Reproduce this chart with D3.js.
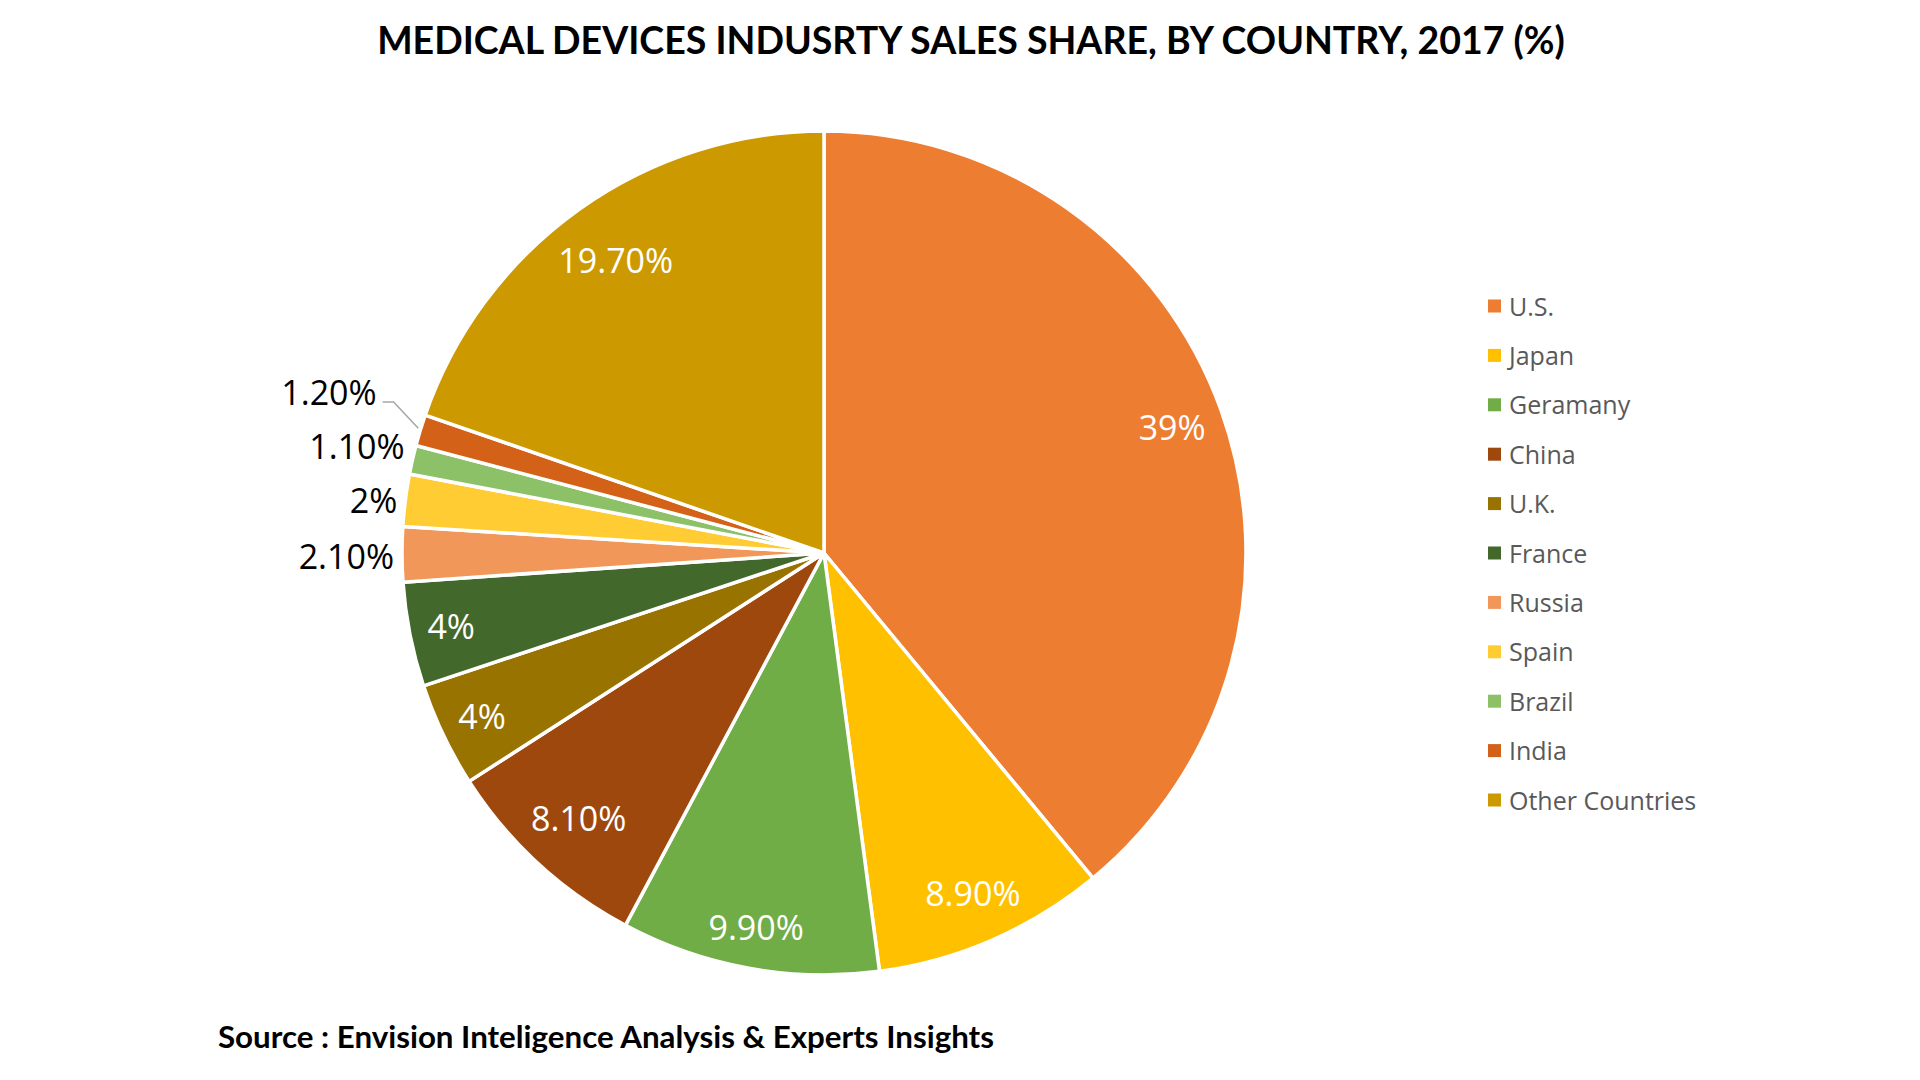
<!DOCTYPE html>
<html lang="en">
<head>
  <meta charset="UTF-8">
  <title>Medical Devices Industry Sales Share</title>
  <script src="https://d3js.org/d3.v7.min.js"></script>
  <style>
    body { margin: 0; background: #fff; }
    .title { font-family: Lato, sans-serif; font-weight: bold; font-size: 37.5px; fill: #000; }
    .source { font-family: Lato, sans-serif; font-weight: bold; font-size: 31.3px; fill: #000; }
    .pct { font-family: 'Open Sans', sans-serif; font-size: 34px; }
    .legend text { font-family: 'Open Sans', sans-serif; font-size: 25px; fill: #595959; }
  </style>
</head>
<body>
  <svg id="chart" width="1920" height="1080"></svg>
  <script>
    const countries = ["U.S.", "Japan", "Geramany", "China", "U.K.", "France", "Russia", "Spain", "Brazil", "India", "Other Countries"];
    const shares = [39, 8.9, 9.9, 8.1, 4, 4, 2.1, 2, 1.1, 1.2, 19.7];
    const shareLabels = ["39%", "8.90%", "9.90%", "8.10%", "4%", "4%", "2.10%", "2%", "1.10%", "1.20%", "19.70%"];
    const colors = ["#ED7D31", "#FFC000", "#70AD47", "#9E480E", "#997300", "#43682B", "#F1975A", "#FFCD33", "#8CC168", "#D36118", "#CC9A00"];

    const svg = d3.select("#chart");
    const cx = 824, cy = 553, R = 422;

    svg.append("text").attr("class", "title")
      .attr("x", 971).attr("y", 54).attr("text-anchor", "middle")
      .text("MEDICAL DEVICES INDUSRTY SALES SHARE, BY COUNTRY, 2017 (%)");

    const color = d3.scaleOrdinal().domain(countries).range(colors);

    const pie = d3.pie().sort(null).value(d => d.value);
    const arcs = pie(countries.map((c, i) => ({ name: c, value: shares[i], label: shareLabels[i] })));

    const arc = d3.arc().innerRadius(0).outerRadius(R);

    const g = svg.append("g").attr("transform", `translate(${cx},${cy})`);

    g.selectAll("path")
      .data(arcs)
      .enter()
      .append("path")
      .attr("d", arc)
      .attr("fill", d => color(d.data.name))
      .attr("stroke", "#fff")
      .attr("stroke-width", 3.5)
      .attr("stroke-linejoin", "round");

    // big slices: label inside, pushed out as far as the text box still fits
    const pad = 15, boxH = 30;
    g.selectAll(".pct-in")
      .data(arcs.filter(d => d.data.value >= 3))
      .enter()
      .append("text")
      .attr("class", "pct")
      .attr("text-anchor", "middle")
      .attr("dy", "0.36em")
      .attr("fill", "#fff")
      .text(d => d.data.label)
      .each(function(d) {
        const w = this.getComputedTextLength();
        const a = (d.startAngle + d.endAngle) / 2;
        const ux = Math.sin(a), uy = -Math.cos(a);
        let r = R;
        for (; r > 0; r -= 1) {
          const px = r * ux, py = r * uy;
          const fx = Math.abs(px) + w / 2, fy = Math.abs(py) + boxH / 2;
          if (Math.hypot(fx, fy) <= R - pad) break;
        }
        d3.select(this).attr("transform", `translate(${r * ux},${r * uy})`);
      });

    // small slices: label outside, pushed up when they collide
    const small = arcs.filter(d => d.data.value < 3);
    let prevY = Infinity;
    small.forEach(d => {
      const a = (d.startAngle + d.endAngle) / 2;
      const nx = Math.sin(a) * (R + 8), ny = -Math.cos(a) * (R + 8) + 2;
      const y = Math.min(ny, prevY - 54);
      prevY = y;
      const moved = ny - y > 20;
      const x = moved ? nx - 36 : nx;
      g.append("text")
        .attr("class", "pct")
        .attr("x", x).attr("y", y)
        .attr("dy", "0.36em")
        .attr("text-anchor", "end")
        .attr("fill", "#000")
        .text(d.data.label);
      if (moved) {
        const ex = Math.sin(a) * R, ey = -Math.cos(a) * R;
        g.append("polyline")
          .attr("points", [[x + 6, y + 9], [x + 17, y + 9], [ex - 2, ey - 2]].map(p => p.join(",")).join(" "))
          .attr("fill", "none")
          .attr("stroke", "#A6A6A6")
          .attr("stroke-width", 1.5);
      }
    });

    // legend
    const legend = svg.append("g").attr("class", "legend")
      .attr("transform", "translate(1488, 306)");
    countries.forEach((c, i) => {
      const yo = i * 49.4;
      legend.append("rect")
        .attr("x", 0).attr("y", yo - 6.5)
        .attr("width", 13).attr("height", 13)
        .attr("fill", color(c));
      legend.append("text")
        .attr("x", 21).attr("y", yo + 9.5)
        .text(c);
    });

    svg.append("text").attr("class", "source")
      .attr("x", 218).attr("y", 1048)
      .text("Source : Envision Inteligence Analysis & Experts Insights");
  </script>
</body>
</html>
